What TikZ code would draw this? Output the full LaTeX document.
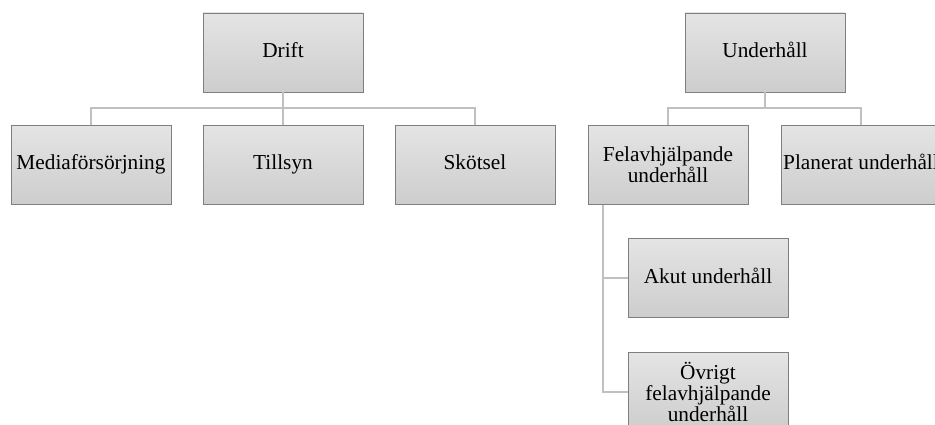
\documentclass[tikz,border=0pt]{standalone}
\usepackage{fontspec}
\setmainfont{Liberation Serif}
\definecolor{boxline}{HTML}{7F7F7F}
\definecolor{boxtop}{HTML}{E4E4E4}
\definecolor{boxbot}{HTML}{CDCDCD}
\definecolor{connline}{HTML}{C0C0C0}
\begin{document}
\begin{tikzpicture}[x=1pt,y=-1pt,
  orgbox/.style={rectangle, draw=boxline, line width=0.9pt, top color=boxtop, bottom color=boxbot,
    minimum width=160pt, minimum height=79pt, inner sep=1pt, align=center,
    font=\fontsize{21.3}{17}\selectfont},
  single/.style={text height=14.5pt, text depth=4.5pt},
  conn/.style={draw=connline, line width=2.6pt}]
\useasboundingbox (0,0) rectangle (935,425);
\clip (0,0) rectangle (935,425);
\fill[white] (0,0) rectangle (935,425);
\coordinate (bar1) at (283,108);
\coordinate (bar2) at (765,108);
\coordinate (felx) at (603,205);
\node[orgbox, single] (Drift) at (283,52.5) {Drift};
\node[orgbox, single] (Media) at (91,165) {Mediaförsörjning};
\node[orgbox, single] (Tillsyn) at (283,165) {Tillsyn};
\node[orgbox, single] (Skotsel) at (475,165) {Skötsel};
\node[orgbox, single] (Under) at (765,52.5) {Underhåll};
\node[orgbox] (Fel) at (668,165) {Felavhjälpande\\underhåll};
\node[orgbox, single] (Plan) at (861,165) {Planerat underhåll};
\node[orgbox, single] (Akut) at (708,278) {Akut underhåll};
\node[orgbox, font=\fontsize{21.3}{19}\selectfont] (Ovrigt) at (708,392) {Övrigt\\felavhjälpande\\underhåll};
\draw[conn] (Drift.south) -- (Drift.south |- bar1) -| (Media.north);
\draw[conn] (Drift.south |- bar1) -- (Tillsyn.north);
\draw[conn] (Drift.south |- bar1) -| (Skotsel.north);
\draw[conn] (Under.south) -- (Under.south |- bar2) -| (Fel.north);
\draw[conn] (Under.south |- bar2) -| (Plan.north);
\draw[conn] (felx) |- (Akut.west);
\draw[conn] (felx) |- (Ovrigt.west);
\end{tikzpicture}
\end{document}
